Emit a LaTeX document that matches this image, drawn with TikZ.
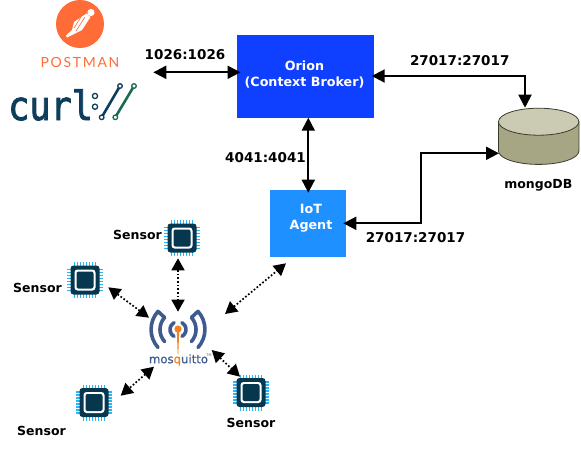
\documentclass[tikz,border=0pt]{standalone}
\usepackage{fontspec}
\setmainfont{DejaVu Sans}
\newfontfamily\postmanfont[LetterSpace=12]{Lato}
\newfontfamily\curlfont[FakeBold=2.2]{DejaVu Sans Mono}
\newfontfamily\mosqfont[FakeBold=.6]{DejaVu Sans}
\usetikzlibrary{arrows.meta,positioning,calc,shapes.geometric}
\definecolor{orionblue}{HTML}{0F3FFF}
\definecolor{iotblue}{HTML}{1E90FF}
\definecolor{postorange}{HTML}{FF6C37}
\definecolor{curldark}{HTML}{0F3D5C}
\definecolor{curlgreen}{HTML}{1A6B52}
\definecolor{chipdark}{HTML}{06374F}
\definecolor{chippin}{HTML}{29B6F6}
\definecolor{mosqblue}{HTML}{3F5A8F}
\definecolor{mosqorange}{HTML}{F58220}
\definecolor{dbtop}{HTML}{CBCAB2}
\definecolor{dbside}{HTML}{A7A684}
\definecolor{dbline}{HTML}{3C3C2C}
\tikzset{
  portlabel/.style={font=\fontsize{13.5}{15}\selectfont\bfseries,inner sep=0pt},
  namelabel/.style={font=\fontsize{12.5}{15}\selectfont\bfseries,inner sep=0pt},
  boxtext/.style={font=\fontsize{12.7}{16}\selectfont\bfseries,text=white,align=center,inner sep=0pt},
  link/.style={line width=2pt,{Triangle[length=13pt,width=13pt]}-{Triangle[length=13pt,width=13pt]}},
  radio/.style={line width=1.7pt,dash pattern=on 1.7pt off 2pt,{Triangle[length=12pt,width=13pt]}-{Triangle[length=12pt,width=13pt]}},
  wave/.style={draw=mosqblue,line width=3.6pt,line cap=round,line join=round},
  ring/.style={draw=#1,fill=white,line width=1.3pt},
  chip/.pic={
    \foreach \k in {-10.5,-7.5,...,10.5} {
      \draw[chippin,line width=1.9pt] (-18,\k) -- (18,\k);
      \draw[chippin,line width=1.9pt] (\k,-18) -- (\k,18);
    }
    \fill[chipdark,rounded corners=3pt] (-14.5,-14.5) rectangle (14.5,14.5);
    \fill[white,rounded corners=3pt] (-10.5,-10.5) rectangle (10.5,10.5);
    \fill[chipdark,rounded corners=2pt] (-8.5,-8.5) rectangle (8.5,8.5);
  }
}
\begin{document}
\begin{tikzpicture}[x=1pt,y=-1pt]
\useasboundingbox (0,0) rectangle (581,456);
% postman logo
\fill[postorange] (80,24) circle (24);
\fill[white] (86.5,13.5) -- (90.5,17) -- (82,30) -- (72,35) -- (67,37.5) -- (66,35.5) -- (72,30) -- (74,22) -- cycle;
\draw[postorange,line width=.6pt] (85,17) -- (76,31);
\draw[postorange,line width=.6pt] (81,17) -- (74,28);
\fill[white] (91,12.5) circle (3.6);
\node[postorange,inner sep=0pt,font=\fontsize{14}{16}\postmanfont] (postman) at (80,62) {POSTMAN};
% curl logo
\node[curldark,inner sep=0pt,anchor=base west,xscale=.88,font=\fontsize{40}{40}\curlfont] (curl) at (8,120) {curl};
\draw[ring=curldark] (95,96) circle (2.6);
\draw[ring=curldark] (95,106.7) circle (2.6);
\draw[curldark,line width=2.6pt] (101.7,117.3) -- (120,86);
\draw[curlgreen,line width=2.6pt] (115.3,117.3) -- (134,86);
\draw[ring=curldark] (101.7,117.3) circle (2.3);
\draw[ring=curldark] (120,86) circle (2.3);
\draw[ring=curlgreen] (115.3,117.3) circle (2.3);
\draw[ring=curlgreen] (134,86) circle (2.3);
% boxes
\node[fill=orionblue,minimum width=137pt,minimum height=83pt,inner sep=0pt] (orion) at (305.5,76.5) {};
\node[boxtext] (oriontext) at (304.5,74.5) {Orion\\(Context Broker)};
\node[fill=iotblue,minimum width=76pt,minimum height=67pt,inner sep=0pt] (iot) at (308,223.3) {};
\node[boxtext] (iottext) at (311,218.7) {IoT\\Agent};
% mongodb
\fill[dbside,draw=dbline,line width=.8pt] (498.5,121.7) -- (498.5,151) arc[start angle=180,end angle=0,x radius=40.2,y radius=13.4] -- (578.9,121.7) -- cycle;
\node[draw=dbline,fill=dbtop,line width=.8pt,ellipse,minimum width=80.4pt,minimum height=27pt,inner sep=0pt] (mongo) at (538.7,121.7) {};
\node[namelabel] (mongolabel) at (538.3,185.7) {mongoDB};
% mosquitto logo
\draw[wave] (158,347.5) arc[start angle=138,end angle=222,radius=27] -- (164.6,317.5) arc[start angle=222,end angle=138,radius=18];
\draw[wave] (198,347.5) arc[start angle=42,end angle=-42,radius=27] -- (191.4,317.5) arc[start angle=-42,end angle=42,radius=18];
\draw[wave] (174,336.4) arc[start angle=120,end angle=240,radius=8];
\draw[wave] (182,336.4) arc[start angle=60,end angle=-60,radius=8];
\fill[mosqorange] (176.8,331) -- (179.2,331) -- (178.3,354) -- (177.7,354) -- cycle;
\fill[mosqorange] (178,329) circle (3.6);
\node[mosqblue,inner sep=0pt,font=\fontsize{11.7}{13}\mosqfont] (mosquitto) at (178.5,360) {mos\textcolor{mosqorange}{q}uitto};
\node[mosqblue,inner sep=0pt,font=\fontsize{3.5}{4}\selectfont] (tm) at (209,355) {TM};
% sensors
\pic at (182,238) {chip};
\pic at (85,280) {chip};
\pic at (251,392.5) {chip};
\pic at (94,402.5) {chip};
\node[namelabel] (sensora) at (137.5,235) {Sensor};
\node[namelabel] (sensorb) at (37.5,288) {Sensor};
\node[namelabel] (sensorc) at (251,423) {Sensor};
\node[namelabel] (sensord) at (41.5,431) {Sensor};
% ports
\node[portlabel] (portclient) at (185,55) {1026:1026};
\node[portlabel] (portmongoa) at (459.7,61) {27017:27017};
\node[portlabel] (portiot) at (265.5,158) {4041:4041};
\node[portlabel] (portmongob) at (415.5,238) {27017:27017};
% solid links
\coordinate (clientend) at (153.3,72.3);
\coordinate (orionwest) at (240.5,72.3);
\coordinate (orioneast) at (371.7,76);
\coordinate (mongotop) at (525,107.7);
\coordinate (orionsouth) at (308.3,117.7);
\coordinate (iotnorth) at (308.3,192.7);
\coordinate (ioteast) at (343.3,223.3);
\coordinate (mongowest) at (499,153.3);
\draw[link] (clientend) -- (orionwest);
\draw[link] (orioneast) -| (mongotop);
\draw[link] (orionsouth) -- (iotnorth);
\draw[link] (ioteast) -| (421,153.3) -- (mongowest);
% dotted links
\coordinate (chipa) at (178,258.3);
\coordinate (hubn) at (178,311.7);
\coordinate (chipb) at (108.3,287.3);
\coordinate (hubw) at (149,317.7);
\coordinate (hube) at (225,314);
\coordinate (iotsouth) at (286,263.3);
\coordinate (hubs) at (211.7,350);
\coordinate (chipc) at (240,376.7);
\coordinate (hubb) at (154,366.7);
\coordinate (chipd) at (120.7,395.7);
\draw[radio] (chipa) -- (hubn);
\draw[radio] (chipb) -- (hubw);
\draw[radio] (hube) -- (iotsouth);
\draw[radio] (hubs) -- (chipc);
\draw[radio] (hubb) -- (chipd);
\end{tikzpicture}
\end{document}
